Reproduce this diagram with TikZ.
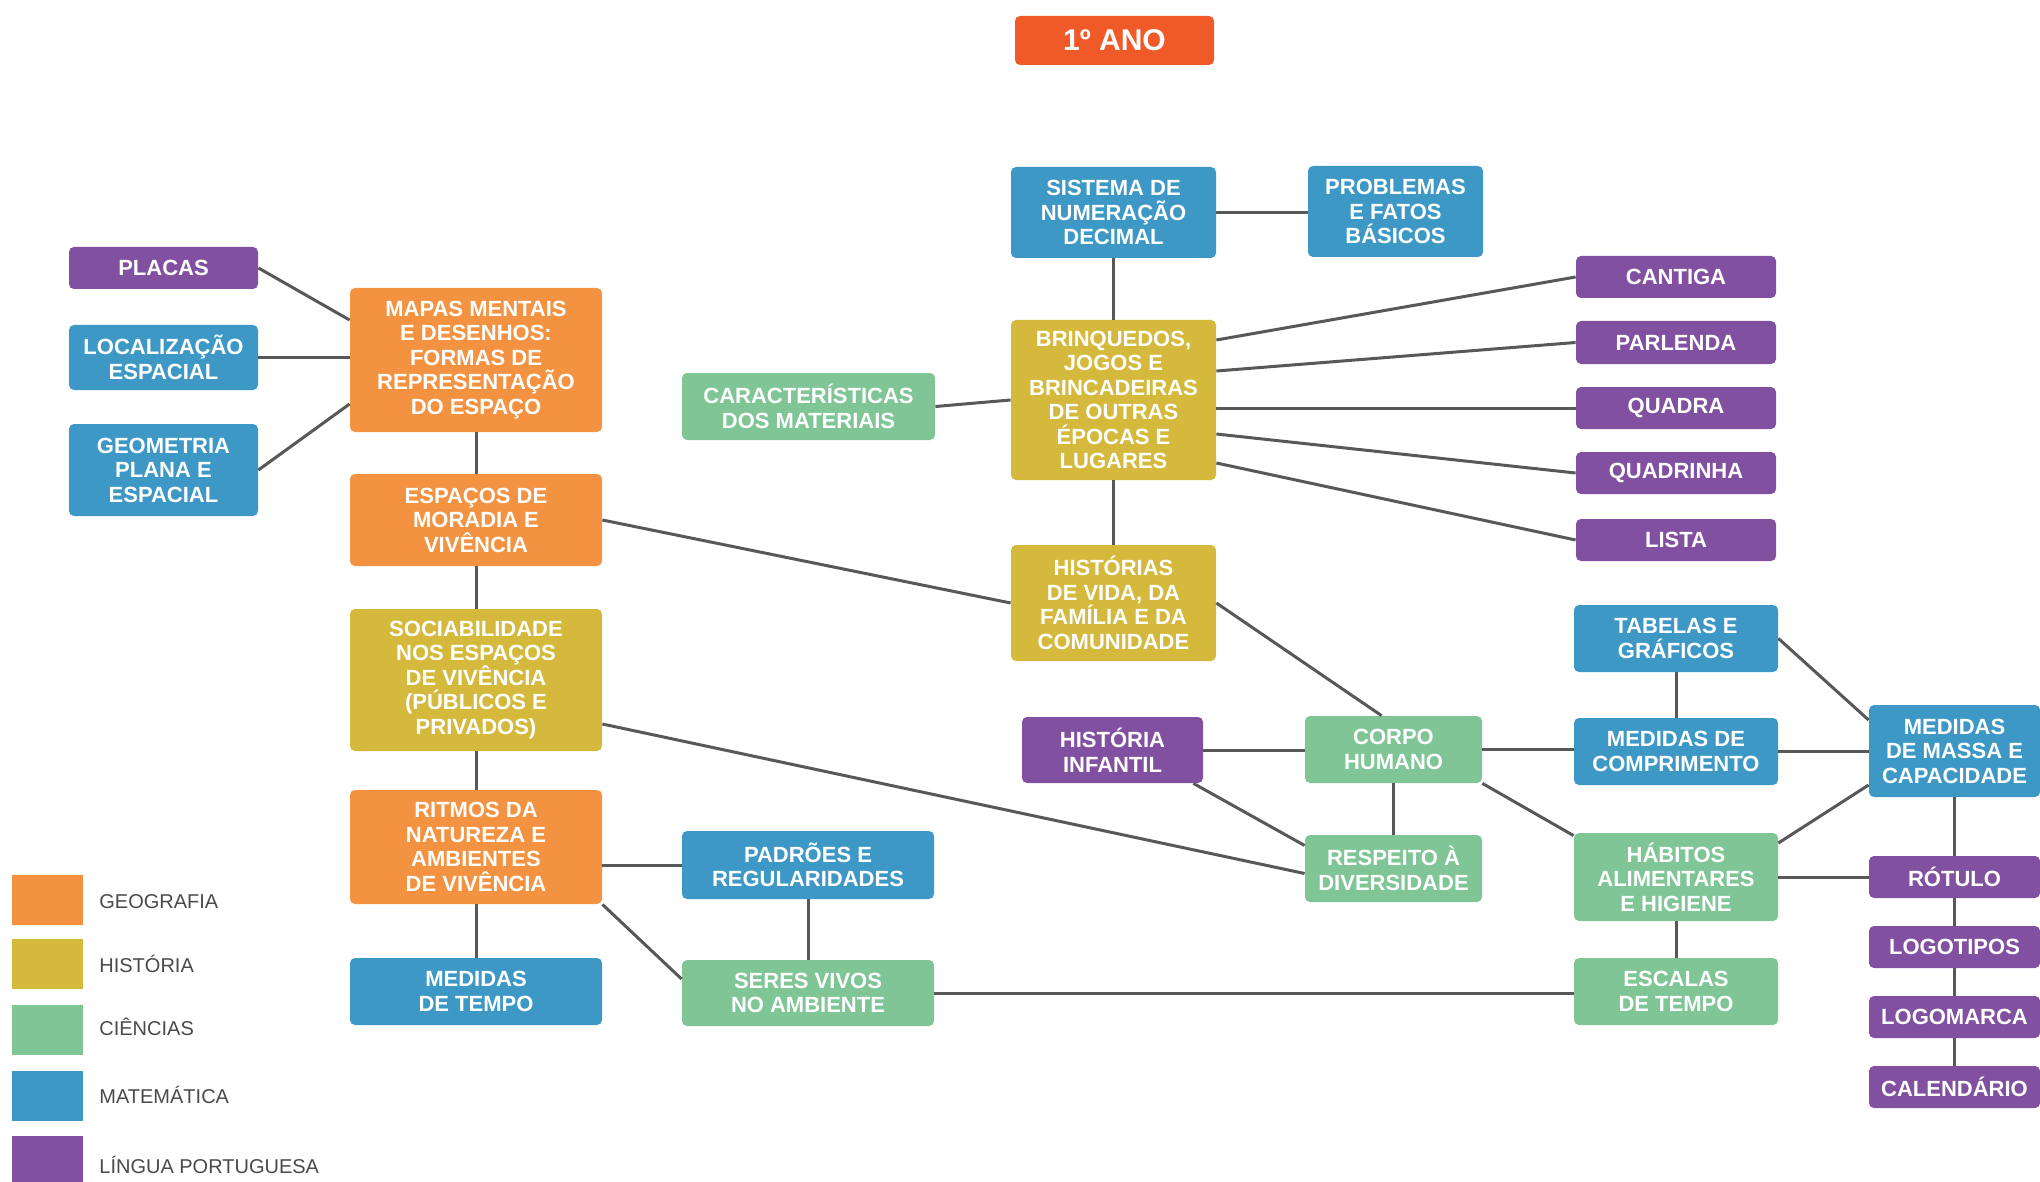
\documentclass[tikz,border=0pt]{standalone}
\usepackage{fontspec}
\setmainfont{Liberation Sans}
\usetikzlibrary{calc}
\definecolor{geo}{HTML}{F39241}
\definecolor{his}{HTML}{D4B93C}
\definecolor{cie}{HTML}{7FC596}
\definecolor{mat}{HTML}{3D98C6}
\definecolor{lin}{HTML}{8150A0}
\definecolor{ano}{HTML}{F05A28}
\definecolor{ln}{HTML}{585858}
\definecolor{legtxt}{HTML}{4A4A4A}
\newcommand\mybox[7]{\node[box, fill=#2, minimum width={(#5-#3)*0.5pt}, minimum height={(#6-#4)*0.5pt}] (#1) at ({(#3+#5)/2},{(#4+#6)/2}) {#7};}
\begin{document}
\begin{tikzpicture}[x=0.5pt,y=-0.5pt,
 box/.style={rounded corners=2.5pt, text=white, font=\fontsize{11}{12.25}\selectfont\bfseries, align=center, inner sep=0pt},
 conn/.style={draw=ln, line width=1.5pt},
 swatch/.style={fill=#1, minimum width=35.5pt, minimum height=25pt, inner sep=0pt},
 legend/.style={text=legtxt, font=\fontsize{10}{12}\selectfont, anchor=west, inner sep=0pt}]
\useasboundingbox[fill=white] (0,0) rectangle (2040,1182);

% title
\node[box, fill=ano, minimum width=99.5pt, minimum height=24.5pt, font=\fontsize{15}{17}\selectfont\bfseries] (ano) at (1114.5,40.5) {1º ANO};

% left column
\mybox{placas}{lin}{69}{247}{258}{289}{PLACAS}
\mybox{loc}{mat}{69}{325}{258}{390}{LOCALIZAÇÃO\\ESPACIAL}
\mybox{geom}{mat}{69}{424}{258}{516}{GEOMETRIA\\PLANA E\\ESPACIAL}
\mybox{mapas}{geo}{350}{288}{602}{432}{MAPAS MENTAIS\\E DESENHOS:\\FORMAS DE\\REPRESENTAÇÃO\\DO ESPAÇO}
\mybox{espacos}{geo}{350}{474}{602}{566}{ESPAÇOS DE\\MORADIA E\\VIVÊNCIA}
\mybox{soc}{his}{350}{609}{602}{751}{SOCIABILIDADE\\NOS ESPAÇOS\\DE VIVÊNCIA\\(PÚBLICOS E\\PRIVADOS)}
\mybox{ritmos}{geo}{350}{790}{602}{904}{RITMOS DA\\NATUREZA E\\AMBIENTES\\DE VIVÊNCIA}
\mybox{medtempo}{mat}{350}{958}{602}{1025}{MEDIDAS\\DE TEMPO}
\mybox{caract}{cie}{682}{373}{935}{440}{CARACTERÍSTICAS\\DOS MATERIAIS}
\mybox{padroes}{mat}{682}{831}{934}{899}{PADRÕES E\\REGULARIDADES}
\mybox{seres}{cie}{682}{960}{934}{1026}{SERES VIVOS\\NO AMBIENTE}

% centre column
\mybox{sistema}{mat}{1011}{167}{1216}{258}{SISTEMA DE\\NUMERAÇÃO\\DECIMAL}
\mybox{problemas}{mat}{1308}{166}{1483}{257}{PROBLEMAS\\E FATOS\\BÁSICOS}
\mybox{brinq}{his}{1011}{320}{1216}{480}{BRINQUEDOS,\\JOGOS E\\BRINCADEIRAS\\DE OUTRAS\\ÉPOCAS E\\LUGARES}
\mybox{historias}{his}{1011}{545}{1216}{661}{HISTÓRIAS\\DE VIDA, DA\\FAMÍLIA E DA\\COMUNIDADE}
\mybox{cantiga}{lin}{1576}{256}{1776}{298}{CANTIGA}
\mybox{parlenda}{lin}{1576}{321}{1776}{364}{PARLENDA}
\mybox{quadra}{lin}{1576}{387}{1776}{429}{QUADRA}
\mybox{quadrinha}{lin}{1576}{452}{1776}{494}{QUADRINHA}
\mybox{lista}{lin}{1576}{519}{1776}{561}{LISTA}

% lower right
\mybox{tabelas}{mat}{1574}{605}{1778}{672}{TABELAS E\\GRÁFICOS}
\mybox{medcomp}{mat}{1574}{718}{1778}{785}{MEDIDAS DE\\COMPRIMENTO}
\mybox{massa}{mat}{1869}{705}{2040}{797}{MEDIDAS\\DE MASSA E\\CAPACIDADE}
\mybox{infantil}{lin}{1022}{717}{1203}{783}{HISTÓRIA\\INFANTIL}
\mybox{corpo}{cie}{1305}{716}{1482}{783}{CORPO\\HUMANO}
\mybox{resp}{cie}{1305}{835}{1482}{902}{RESPEITO À\\DIVERSIDADE}
\mybox{hab}{cie}{1574}{833}{1778}{921}{HÁBITOS\\ALIMENTARES\\E HIGIENE}
\mybox{escalas}{cie}{1574}{958}{1778}{1025}{ESCALAS\\DE TEMPO}
\mybox{rotulo}{lin}{1869}{856}{2040}{898}{RÓTULO}
\mybox{logotipos}{lin}{1869}{926}{2040}{968}{LOGOTIPOS}
\mybox{logomarca}{lin}{1869}{996}{2040}{1038}{LOGOMARCA}
\mybox{calendario}{lin}{1869}{1066}{2040}{1108}{CALENDÁRIO}

% legend
\node[swatch=geo] (sw1) at (47.5,900) {};
\node[swatch=his] (sw2) at (47.5,964) {};
\node[swatch=cie] (sw3) at (47.5,1029.5) {};
\node[swatch=mat] (sw4) at (47.5,1095.5) {};
\node[swatch=lin] (sw5) at (47.5,1161) {};
\node[legend] (lg1) at (99,902) {GEOGRAFIA};
\node[legend] (lg2) at (99,964) {HISTÓRIA};
\node[legend] (lg3) at (99,1027) {CIÊNCIAS};
\node[legend] (lg4) at (99,1095) {MATEMÁTICA};
\node[legend] (lg5) at (99,1165) {LÍNGUA PORTUGUESA};

% connectors
\draw[conn] (placas.east) -- ($(mapas.west)+(0,-40)$);
\draw[conn] (loc.east) -- (loc.east -| mapas.west);
\draw[conn] (geom.east) -- ($(mapas.west)+(0,44)$);
\draw[conn] (mapas.south) -- (espacos.north);
\draw[conn] (espacos.south) -- (soc.north);
\draw[conn] (soc.south) -- (ritmos.north);
\draw[conn] (ritmos.south) -- (medtempo.north);
\draw[conn] (espacos.east) -- (historias.west);
\draw[conn] ($(soc.east)+(0,44)$) -- ($(resp.west)+(0,5)$);
\draw[conn] (padroes.west) -- (padroes.west -| ritmos.east);
\draw[conn] (ritmos.south east) -- ($(seres.west)+(0,-14)$);
\draw[conn] (padroes.south) -- (seres.north);
\draw[conn] (seres.east) -- (seres.east -| escalas.west);
\draw[conn] (caract.east) -- (brinq.west);
\draw[conn] (sistema.east) -- (sistema.east -| problemas.west);
\draw[conn] (sistema.south) -- (brinq.north);
\draw[conn] (brinq.south) -- (historias.north);
\draw[conn] ($(brinq.east)+(0,-60)$) -- (cantiga.west);
\draw[conn] ($(brinq.east)+(0,-29)$) -- (parlenda.west);
\draw[conn] (quadra.west -| brinq.east) -- (quadra.west);
\draw[conn] ($(brinq.east)+(0,34)$) -- (quadrinha.west);
\draw[conn] ($(brinq.east)+(0,63)$) -- (lista.west);
\draw[conn] (historias.east) -- ($(corpo.north)+(-12,0)$);
\draw[conn] (infantil.east) -- (infantil.east -| corpo.west);
\draw[conn] ($(infantil.south east)+(-10,0)$) -- ($(resp.west)+(0,-23)$);
\draw[conn] (corpo.south) -- (resp.north);
\draw[conn] (corpo.east) -- (corpo.east -| medcomp.west);
\draw[conn] (corpo.south east) -- ($(hab.north west)+(0,3)$);
\draw[conn] (tabelas.south) -- (medcomp.north);
\draw[conn] (tabelas.east) -- ($(massa.west)+(0,-31)$);
\draw[conn] (medcomp.east) -- (medcomp.east -| massa.west);
\draw[conn] ($(hab.east)+(0,-34)$) -- ($(massa.west)+(0,34)$);
\draw[conn] (hab.east) -- (rotulo.west);
\draw[conn] (hab.south) -- (escalas.north);
\draw[conn] (massa.south) -- (rotulo.north);
\draw[conn] (rotulo.south) -- (logotipos.north);
\draw[conn] (logotipos.south) -- (logomarca.north);
\draw[conn] (logomarca.south) -- (calendario.north);
\end{tikzpicture}
\end{document}
